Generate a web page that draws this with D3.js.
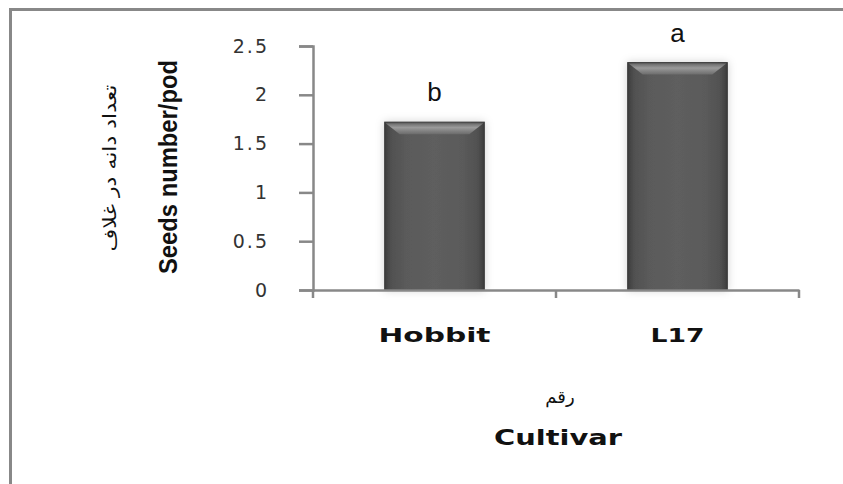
<!DOCTYPE html>
<html>
<head>
<meta charset="utf-8">
<script src="https://cdn.jsdelivr.net/npm/d3@7"></script>
<style>
  body { margin: 0; background: #fff; }
  svg { display: block; }
</style>
</head>
<body>
<script>
var width  = 843;
var height = 484;

var cultivars = ['Hobbit', 'L17'];
var seedsPerPod = [1.72, 2.33];
var groupLetters = ['b', 'a'];
var yTicks = [0, 0.5, 1, 1.5, 2, 2.5];

var plot = { left: 313, right: 799, top: 46, bottom: 290 };

var svg = d3.select('body')
            .append('svg')
            .attr('width', width)
            .attr('height', height);

// frame (only top and left edges show in the picture)
svg.append('path')
   .attr('d', 'M10.5,' + height + ' V9.5 H' + width)
   .attr('fill', 'none')
   .attr('stroke', '#888')
   .attr('stroke-width', 3);

var x = d3.scaleBand()
          .domain(cultivars)
          .range([plot.left, plot.right])
          .paddingInner(0.59)
          .paddingOuter(0.295);

var xOuter = d3.scaleBand()
               .domain(cultivars)
               .range([plot.left, plot.right]);

var y = d3.scaleLinear()
          .domain([0, 2.5])
          .range([plot.bottom, plot.top]);

var defs = svg.append('defs');

var grad = defs.append('linearGradient')
               .attr('id', 'barFill')
               .attr('x1', 0).attr('x2', 1).attr('y1', 0).attr('y2', 0);
[[0, '#3c3c3c'], [0.06, '#505050'], [0.2, '#5a5a5a'], [0.5, '#5e5e5e'], [0.8, '#5a5a5a'], [0.94, '#505050'], [1, '#3c3c3c']]
  .forEach(function(s){ grad.append('stop').attr('offset', s[0]).attr('stop-color', s[1]); });

var bevel = defs.append('linearGradient')
                .attr('id', 'bevelFill')
                .attr('x1', 0).attr('x2', 0).attr('y1', 0).attr('y2', 1);
[[0, '#6a6a6a'], [0.4, '#9a9a9a'], [1, '#6c6c6c']]
  .forEach(function(s){ bevel.append('stop').attr('offset', s[0]).attr('stop-color', s[1]); });

defs.append('filter')
    .attr('id', 'shadow')
    .attr('x', -0.2).attr('y', -0.1).attr('width', 1.4).attr('height', 1.2)
    .append('feDropShadow')
    .attr('dx', 0).attr('dy', 0)
    .attr('stdDeviation', 4)
    .attr('flood-color', '#000')
    .attr('flood-opacity', 0.18);

var data = cultivars.map(function(c, i){
  return { name: c, value: seedsPerPod[i], letter: groupLetters[i] };
});

var bars = svg.selectAll('g.bar')
              .data(data)
              .enter()
              .append('g')
              .attr('class', 'bar');

bars.append('rect')
    .attr('x', function(d){ return x(d.name); })
    .attr('y', function(d){ return y(d.value); })
    .attr('width', x.bandwidth())
    .attr('height', function(d){ return y(0) - y(d.value); })
    .attr('fill', 'url(#barFill)')
    .attr('stroke', '#3a3a3a')
    .attr('stroke-width', 1)
    .attr('filter', 'url(#shadow)');

// top bevel
bars.append('path')
    .attr('d', function(d){
      var x0 = x(d.name) + 1, x1 = x0 + x.bandwidth() - 2, t = y(d.value) + 1;
      return 'M' + x0 + ',' + t + ' H' + x1 + ' L' + (x1 - 14) + ',' + (t + 11) +
             ' H' + (x0 + 14) + ' Z';
    })
    .attr('fill', 'url(#bevelFill)');

bars.append('text')
    .attr('x', function(d){ return x(d.name) + x.bandwidth() / 2; })
    .attr('y', function(d){ return y(d.value) - 21; })
    .attr('text-anchor', 'middle')
    .attr('font-family', 'Liberation Sans, Arial, sans-serif')
    .attr('font-size', '26px')
    .attr('fill', '#111')
    .text(function(d){ return d.letter; });

// axes
var yAxis = svg.append('g')
               .attr('transform', 'translate(' + plot.left + ',0)')
               .call(d3.axisLeft(y).tickValues(yTicks).tickSize(14).tickPadding(32)
                       .tickFormat(function(v){ return String(v); }));

var xAxis = svg.append('g')
               .attr('transform', 'translate(0,' + plot.bottom + ')')
               .call(d3.axisBottom(xOuter).tickSize(0).tickPadding(38));

[yAxis, xAxis].forEach(function(a){
  a.select('.domain').attr('stroke', '#888').attr('stroke-width', 2.5);
  a.selectAll('.tick line').attr('stroke', '#888').attr('stroke-width', 2.5);
});

yAxis.selectAll('.tick text')
     .attr('font-family', 'DejaVu Sans, sans-serif')
     .attr('font-size', '19px')
     .attr('letter-spacing', '2px')
     .attr('text-anchor', 'end')
     .attr('dx', 2)
     .attr('fill', '#333');

var xLabelLen = { 'Hobbit': 112, 'L17': 54 };
xAxis.selectAll('.tick text')
     .attr('font-family', 'DejaVu Sans, sans-serif')
     .attr('font-weight', 'bold')
     .attr('font-size', '20px')
     .attr('textLength', function(d){ return xLabelLen[d]; })
     .attr('lengthAdjust', 'spacingAndGlyphs')
     .attr('fill', '#111');

// x ticks at category boundaries
var bounds = [plot.left].concat(cultivars.map(function(c){ return xOuter(c) + xOuter.bandwidth(); }));
xAxis.selectAll('line.boundary')
     .data(bounds)
     .enter()
     .append('line')
     .attr('class', 'boundary')
     .attr('x1', function(d){ return d; })
     .attr('x2', function(d){ return d; })
     .attr('y1', 0)
     .attr('y2', 8)
     .attr('stroke', '#888')
     .attr('stroke-width', 2.5);

// axis titles
svg.append('text')
   .attr('x', 560).attr('y', 403)
   .attr('text-anchor', 'middle')
   .attr('font-family', 'DejaVu Sans, sans-serif')
   .attr('font-size', '18px')
   .attr('fill', '#111')
   .text('رقم');

svg.append('text')
   .attr('x', 558).attr('y', 445)
   .attr('text-anchor', 'middle')
   .attr('font-family', 'DejaVu Sans, sans-serif')
   .attr('font-weight', 'bold')
   .attr('font-size', '21px')
   .attr('textLength', 128)
   .attr('lengthAdjust', 'spacingAndGlyphs')
   .attr('fill', '#111')
   .text('Cultivar');

svg.append('text')
   .attr('transform', 'translate(177,167) rotate(-90)')
   .attr('text-anchor', 'middle')
   .attr('font-family', 'Liberation Sans Narrow, Liberation Sans, sans-serif')
   .attr('font-weight', 'bold')
   .attr('font-size', '26px')
   .attr('textLength', 214)
   .attr('lengthAdjust', 'spacingAndGlyphs')
   .attr('fill', '#111')
   .text('Seeds number/pod');

svg.append('text')
   .attr('transform', 'translate(116,168) rotate(-90)')
   .attr('text-anchor', 'middle')
   .attr('font-family', 'DejaVu Sans, sans-serif')
   .attr('font-size', '18px')
   .attr('textLength', 167)
   .attr('lengthAdjust', 'spacingAndGlyphs')
   .attr('fill', '#111')
   .text('تعداد دانه در غلاف');
</script>
</body>
</html>
